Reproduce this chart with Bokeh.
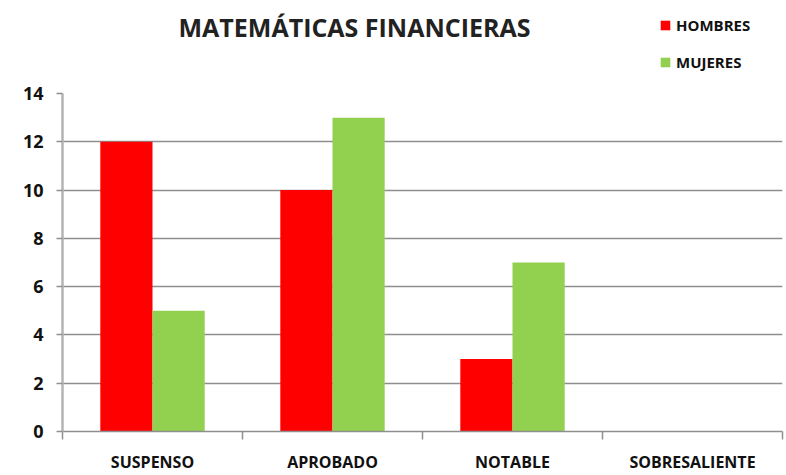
from bokeh.plotting import figure
from bokeh.models import Range1d, FixedTicker, Legend, LegendItem, ColumnDataSource, Label
from bokeh.layouts import column
from bokeh.embed import file_html
from bokeh.resources import INLINE
from bokeh.transform import dodge

categories = ["SUSPENSO", "APROBADO", "NOTABLE", "SOBRESALIENTE"]
hombres = [12, 10, 3, 0]
mujeres = [5, 13, 7, 0]
series_names = ["HOMBRES", "MUJERES"]
y_ticks = [0, 2, 4, 6, 8, 10, 12, 14]
title_text = "MATEMÁTICAS FINANCIERAS"

RED = "#FF0000"
GREEN = "#92D050"
GRID = "#8f8f8f"
AXIS = "#b4b4b4"
FONT = "Open Sans"
TXT = "#111111"

xpos = list(range(len(categories)))
src = ColumnDataSource(dict(x=xpos, hombres=hombres, mujeres=mujeres))

LEFT, RIGHT = 62, 4

# ---------- header (title + legend) ----------
HEAD_H = 81
head = figure(width=786, height=HEAD_H, output_backend="svg", toolbar_location=None,
              x_range=Range1d(-0.5, len(categories) - 0.5), y_range=Range1d(0, 1),
              min_border_left=LEFT, min_border_right=RIGHT,
              min_border_top=0, min_border_bottom=0)
head.axis.visible = False
head.grid.visible = False
head.outline_line_color = None

# zero-height proxies that only carry the legend colours
h1 = head.vbar(x="x", top=0, bottom=0, width=0.1, source=src, fill_color=RED, line_color=None)
h2 = head.vbar(x="x", top=0, bottom=0, width=0.1, source=src, fill_color=GREEN, line_color=None)

head.add_layout(Label(x=354 - LEFT, y=HEAD_H - 26, x_units="screen", y_units="screen",
                      text=title_text, text_align="center", text_baseline="middle",
                      text_font=FONT, text_font_size="25px", text_font_style="bold",
                      text_color="#222222"))

legend = Legend(items=[LegendItem(label=series_names[0], renderers=[h1]),
                       LegendItem(label=series_names[1], renderers=[h2])],
                location=(659 - LEFT, HEAD_H - 72), orientation="vertical",
                glyph_width=12, glyph_height=12, label_height=20, spacing=17,
                padding=0, margin=0, label_standoff=5,
                label_text_font=FONT, label_text_font_size="15px",
                label_text_font_style="bold", label_text_color=TXT,
                border_line_color=None, background_fill_alpha=0)
head.add_layout(legend, "center")

# ---------- chart ----------
p = figure(width=786, height=475 - HEAD_H, output_backend="svg", toolbar_location=None,
           x_range=Range1d(-0.5, len(categories) - 0.5), y_range=Range1d(0, 14),
           min_border_left=LEFT, min_border_right=RIGHT, min_border_top=12, min_border_bottom=44)
p.outline_line_color = None

bw = 0.29
p.vbar(x=dodge("x", -0.145), top="hombres", width=bw, source=src,
       fill_color=RED, line_color=None)
p.vbar(x=dodge("x", 0.145), top="mujeres", width=bw, source=src,
       fill_color=GREEN, line_color=None)

xa = p.xaxis[0]
xa.ticker = FixedTicker(ticks=xpos,
                        minor_ticks=[i - 0.5 for i in range(len(categories) + 1)])
xa.major_label_overrides = {i: c for i, c in enumerate(categories)}
xa.major_tick_out = 0
xa.major_tick_in = 0
xa.minor_tick_out = 8
xa.minor_tick_in = 0
xa.minor_tick_line_color = GRID
xa.axis_line_color = GRID
xa.axis_line_width = 1.5
xa.minor_tick_line_width = 1.5
xa.major_label_standoff = 11
xa.major_label_text_font = FONT
xa.major_label_text_font_size = "16px"
xa.major_label_text_font_style = "bold"
xa.major_label_text_color = TXT

ya = p.yaxis[0]
ya.ticker = FixedTicker(ticks=y_ticks, minor_ticks=[])
ya.major_tick_out = 6
ya.major_tick_in = 0
ya.major_tick_line_color = GRID
ya.major_tick_line_width = 1.5
ya.axis_line_color = AXIS
ya.axis_line_width = 2.5
ya.major_label_standoff = 13
ya.major_label_text_font = FONT
ya.major_label_text_font_size = "18px"
ya.major_label_text_font_style = "bold"
ya.major_label_text_color = TXT

p.xgrid.grid_line_color = None
p.ygrid.ticker = FixedTicker(ticks=y_ticks)
p.ygrid.grid_line_color = GRID
p.ygrid.grid_line_width = 1.5

layout = column(head, p, spacing=0)
open("out.html", "w").write(file_html(layout, INLINE))
